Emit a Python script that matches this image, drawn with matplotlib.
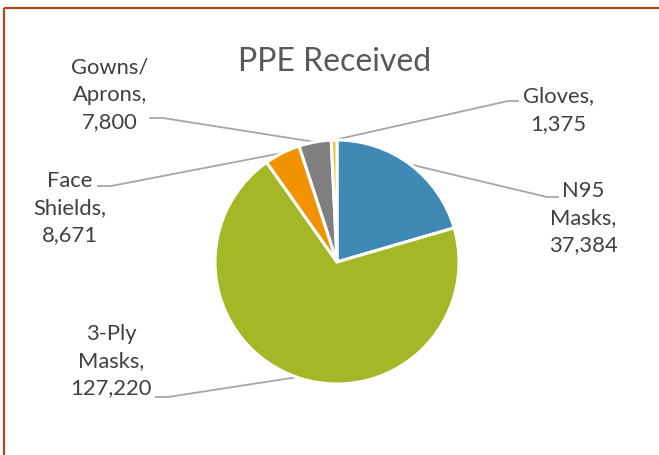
import numpy as np
import matplotlib.pyplot as plt

plt.rcParams['font.family'] = ['Lato', 'DejaVu Sans']

# data
labels = ["N95\nMasks,", "3-Ply\nMasks,", "Face\nShields,", "Gowns/\nAprons,", "Gloves,"]
values = [37384, 127220, 8671, 7800, 1375]
colors = ["#3F8AB5", "#A5B727", "#F39200", "#7F7F7F", "#F5C040"]

# label layout in pixels: text centre, leader start, leader bend
text_pos = [(583, 218), (111, 361), (70, 208), (110, 95), (558, 110)]
lead_start = [(558, 197), (156, 397), (98, 186), (150, 118), (518, 101)]
lead_bend = [(547, 197), (168, 397), (111, 186), (163, 118), (508, 101)]

W, H = 659, 455
fig = plt.figure(figsize=(W / 100, H / 100), dpi=100)

cx, cy, r = 337, 262, 122
ax = fig.add_axes([(cx - r) / W, (H - cy - r) / H, 2 * r / W, 2 * r / H])
wedges, _ = ax.pie(values, colors=colors, startangle=90, counterclock=False,
                   radius=1.0, wedgeprops=dict(edgecolor='white', linewidth=2.2))
ax.set_xlim(-1, 1)
ax.set_ylim(-1, 1)
ax.axis('off')

ov = fig.add_axes([0, 0, 1, 1], zorder=-1)
ov.set_xlim(0, W)
ov.set_ylim(H, 0)
ov.axis('off')

ov.text(335, 62, "PPE Received", ha='center', va='center', fontsize=23, color='#595959')

to_ov = ax.transData + ov.transData.inverted()
for i, w in enumerate(wedges):
    mid = np.deg2rad((w.theta1 + w.theta2) / 2)
    ex, ey = to_ov.transform((np.cos(mid), np.sin(mid)))
    sx, sy = lead_start[i]
    bx, by = lead_bend[i]
    ov.plot([sx, bx, ex], [sy, by, ey], color='#A6A6A6', lw=1.3)
    tx, ty = text_pos[i]
    ov.text(tx, ty, labels[i] + "\n" + f"{values[i]:,}", ha='center', va='center',
            fontsize=15.8, color='#404040', linespacing=1.45)

# chart border (top and left visible)
ov.plot([4, W], [8, 8], color='#B5451B', lw=1.6, solid_capstyle='butt')
ov.plot([4, 4], [8, H], color='#B5451B', lw=1.6, solid_capstyle='butt')

plt.savefig("out.png", dpi=100)
